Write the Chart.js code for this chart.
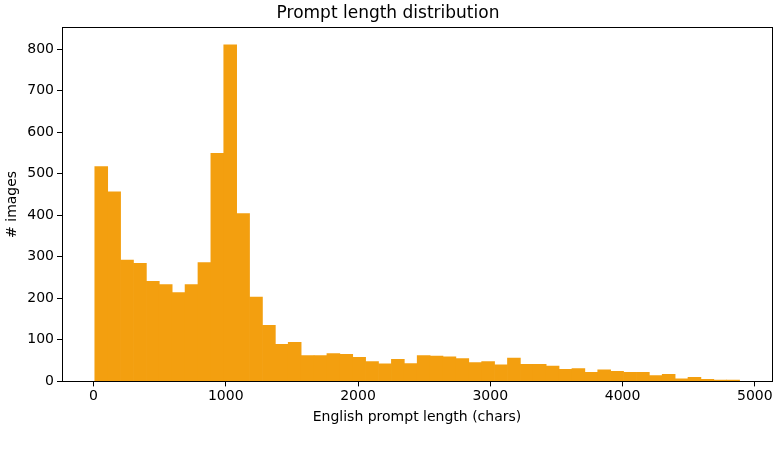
<!DOCTYPE html>
<html>
<head>
<meta charset="utf-8">
<script src="https://cdn.jsdelivr.net/npm/chart.js@4"></script>
<style>
  html, body { margin: 0; padding: 0; background: #fff; }
  #wrap { width: 779px; height: 461px; }
</style>
</head>
<body>
<div id="wrap"><canvas id="hist" width="779" height="461"></canvas></div>
<script>
// histogram: 50 bins, ~97.5 chars wide, starting near 10 chars
const binStart = 10;
const binWidth = 97.5;
const counts = [
  517, 456, 292, 284, 241, 233, 214, 233, 286, 549,
  810, 404, 203, 135, 89, 94, 62, 62, 67, 65,
  58, 48, 42, 53, 43, 62, 61, 59, 55, 45,
  48, 40, 56, 41, 41, 37, 29, 31, 22, 28,
  24, 22, 22, 14, 17, 6, 10, 5, 3, 3
];
const xTicks = [0, 1000, 2000, 3000, 4000, 5000];
const yTicks = [0, 100, 200, 300, 400, 500, 600, 700, 800];

const font = "'DejaVu Sans', sans-serif";
const barColor = "#f39f0f";

// matplotlib-style box around the plot area
const frame = {
    id: "frame",
    afterDraw(c) {
        const a = c.chartArea, ctx = c.ctx;
        ctx.save();
        ctx.strokeStyle = "#000";
        ctx.lineWidth = 1;
        ctx.strokeRect(Math.round(a.left) + 0.5, Math.round(a.top) + 0.5,
            Math.round(a.right - a.left), Math.round(a.bottom - a.top));
        ctx.restore();
    }
};

const points = counts.map((v, i) => ({ x: binStart + binWidth * (i + 0.5), y: v }));

new Chart(document.getElementById("hist"), {
    type: "bar",
    data: {
        datasets: [{
            data: points,
            backgroundColor: barColor,
            borderColor: barColor,
            borderWidth: 0,
            barPercentage: 1,
            categoryPercentage: 1
        }]
    },
    options: {
        responsive: false,
        animation: false,
        layout: { padding: { left: 4, right: 7, top: 0, bottom: 35 } },
        plugins: {
            legend: { display: false },
            tooltip: { enabled: false },
            title: {
                display: true,
                text: "Prompt length distribution",
                color: "#000",
                font: { family: font, size: 17, weight: "normal" },
                padding: { top: 3, bottom: 4 }
            }
        },
        scales: {
            x: {
                type: "linear",
                offset: false,
                min: -238,
                max: 5130,
                afterBuildTicks: s => { s.ticks = xTicks.map(v => ({ value: v })); },
                grid: { display: true, offset: false, drawOnChartArea: false, color: "#000", tickLength: 5 },
                border: { display: false },
                ticks: {
                    color: "#000", font: { family: font, size: 14 }, padding: 2, maxRotation: 0,
                    callback: v => String(v)
                },
                title: {
                    display: true,
                    text: "English prompt length (chars)",
                    color: "#000",
                    font: { family: font, size: 14 },
                    padding: { top: 2, bottom: 0 }
                }
            },
            y: {
                min: 0,
                max: 852,
                afterBuildTicks: s => { s.ticks = yTicks.map(v => ({ value: v })); },
                afterFit: s => { s.width = 58; },
                grid: { display: true, drawOnChartArea: false, color: "#000", tickLength: 5 },
                border: { display: false },
                ticks: { color: "#000", font: { family: font, size: 14 }, padding: 3 },
                title: {
                    display: true,
                    text: "# images",
                    color: "#000",
                    font: { family: font, size: 14 },
                    padding: { top: 0, bottom: 0 }
                }
            }
        }
    },
    plugins: [frame]
});
</script>
</body>
</html>
